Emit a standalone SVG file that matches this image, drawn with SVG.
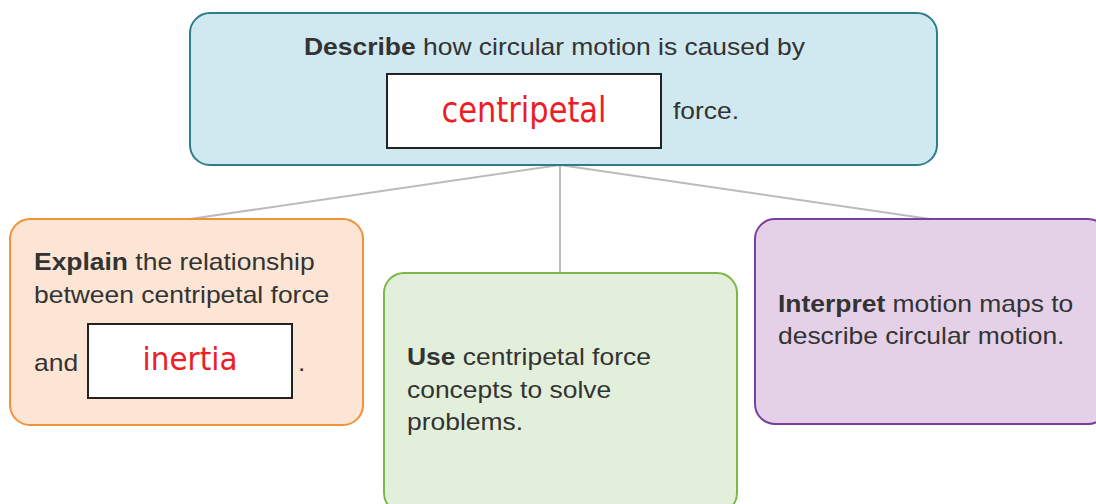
<svg xmlns="http://www.w3.org/2000/svg" width="1096" height="504" viewBox="0 0 1096 504">
<style>
.t{font-family:"Liberation Sans",Arial,sans-serif;font-size:23px;fill:#333333}
.b{font-weight:bold}
.ans{font-family:"DejaVu Sans Condensed","DejaVu Sans",sans-serif;font-size:35px;fill:#ee1c25;text-anchor:middle}
.blank{fill:#ffffff;stroke:#222222;stroke-width:2}
.con{stroke:#bbbbbb;stroke-width:2;fill:none}
</style>
<rect width="1096" height="504" fill="#ffffff"/>
<g id="connectors">
<line class="con" x1="560" y1="165" x2="190" y2="219"/>
<line class="con" x1="560" y1="165" x2="560" y2="273"/>
<line class="con" x1="560" y1="165" x2="930" y2="219"/>
</g>
<g id="node-top">
<rect x="190" y="13" width="747" height="152" rx="20" fill="#d0e8ef" stroke="#2e7d8a" stroke-width="2"/>
<text class="t" transform="translate(304,55) scale(1.15,1)"><tspan class="b">Describe</tspan> how circular motion is caused by</text>
<rect class="blank" x="387" y="74" width="274" height="74"/>
<text class="ans" x="524" y="122" textLength="165" lengthAdjust="spacingAndGlyphs">centripetal</text>
<text class="t" transform="translate(673,119) scale(1.15,1)">force.</text>
</g>
<g id="node-explain">
<rect x="10" y="219" width="353" height="206" rx="20" fill="#fce5d4" stroke="#f0923a" stroke-width="2"/>
<text class="t" transform="translate(34,270) scale(1.15,1)"><tspan class="b">Explain</tspan> the relationship</text>
<text class="t" transform="translate(34,303) scale(1.15,1)">between centripetal force</text>
<text class="t" transform="translate(34,371) scale(1.15,1)">and</text>
<rect class="blank" x="88" y="324" width="204" height="74"/>
<text class="ans" x="190" y="370" textLength="95" lengthAdjust="spacingAndGlyphs" style="font-size:32px">inertia</text>
<text class="t" transform="translate(298,371) scale(1.15,1)">.</text>
</g>
<g id="node-use">
<rect x="384" y="273" width="353" height="240" rx="20" fill="#e2efda" stroke="#7ab648" stroke-width="2"/>
<text class="t" transform="translate(407,365) scale(1.15,1)"><tspan class="b">Use</tspan> centripetal force</text>
<text class="t" transform="translate(407,398) scale(1.15,1)">concepts to solve</text>
<text class="t" transform="translate(407,430) scale(1.15,1)">problems.</text>
</g>
<g id="node-interpret">
<rect x="755" y="219" width="353" height="205" rx="20" fill="#e4d1e7" stroke="#7b3fa0" stroke-width="2"/>
<text class="t" transform="translate(778,312) scale(1.15,1)"><tspan class="b">Interpret</tspan> motion maps to</text>
<text class="t" transform="translate(778,344) scale(1.15,1)">describe circular motion.</text>
</g>
</svg>
